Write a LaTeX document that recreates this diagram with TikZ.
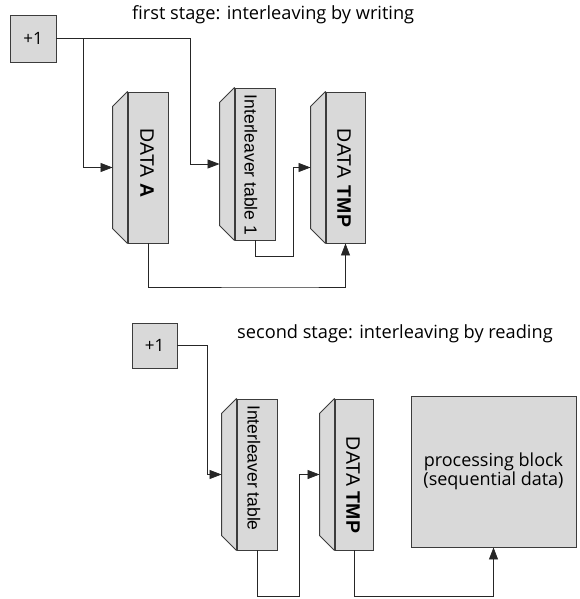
\documentclass[tikz,border=0pt]{standalone}
\usepackage{fontspec}
\setmainfont{Open Sans}
\newfontfamily\labelfont{Liberation Sans}
\usetikzlibrary{arrows.meta,calc}
\definecolor{blockfill}{HTML}{D9D9D9}
\definecolor{edge}{HTML}{3C3C3C}
\tikzset{
  box/.style={draw=edge,fill=blockfill,line width=0.9pt,inner sep=0pt},
  mem/.style={box,minimum width=40pt,minimum height=151pt},
  memlabel/.style={rotate=-90,inner sep=0pt,font=\labelfont\fontsize{19.5}{21}\selectfont},
  tablelabel/.style={memlabel,font=\labelfont\fontsize{17.5}{19}\selectfont},
  conn/.style={draw=black!85,line width=0.8pt},
  arrow/.style={conn,-{Triangle[length=12pt,width=9pt]}},
  caption/.style={font=\fontsize{18.2}{20}\selectfont,inner sep=0pt}
}
% slanted back face of a memory block, left of its front rectangle
\newcommand{\memback}[2]{%
  \fill[blockfill,draw=edge,line width=0.9pt,line join=bevel]
    (#1.north west) -- ++(-15,15) -- ($(#1.south west)+(-15,-15)$) -- (#1.south west) -- cycle;
  \coordinate (#2) at ($(#1.west)+(-15,0)$);}
\begin{document}
\begin{tikzpicture}[x=1pt,y=-1pt]
\useasboundingbox (0,0) rectangle (579,599);

% ---------- first stage ----------
\node[caption,anchor=west] (cap1) at (132,15) {first stage: interleaving by writing};
\node[box,minimum width=46pt,minimum height=47pt,font=\fontsize{17}{19}\selectfont] (p1) at (33,38.5) {+1};

\node[mem] (A) at (148,167.5) {};
\memback{A}{Ain}
\node[memlabel] (Alab) at (147,163) {DATA \textbf{A}};

\node[mem,minimum height=152pt] (IT1) at (255,164) {};
\memback{IT1}{IT1in}
\node[tablelabel] (IT1lab) at (251,165) {Interleaver table 1};

\node[mem,minimum width=39pt] (T1) at (345.5,167.5) {};
\memback{T1}{T1in}
\node[memlabel] (T1lab) at (344,178) {DATA\hspace{0.4em}\textbf{TMP}};

\draw[arrow] (p1.east) -- (190,38.5) |- (IT1in);
\draw[arrow] (83,38.5) |- (Ain);
\draw[arrow] (A.south) |- (293,287) -- (293,287 -| T1.south) -- (T1.south);
\draw[arrow] (IT1.south) |- (293,256) |- (T1in);

% ---------- second stage ----------
\node[caption,anchor=west] (cap2) at (237,334) {second stage: interleaving by reading};
\node[box,minimum width=45pt,minimum height=45pt,font=\fontsize{17}{19}\selectfont] (p2) at (154.5,345.5) {+1};

\node[mem] (IT2) at (257,474.5) {};
\memback{IT2}{IT2in}
\node[tablelabel] (IT2lab) at (254,468) {Interleaver table};

\node[mem,minimum width=38pt] (T2) at (354,474.5) {};
\memback{T2}{T2in}
\node[memlabel] (T2lab) at (353,485) {DATA\hspace{0.3em}\textbf{TMP}};

\node[box,minimum width=165pt,minimum height=151pt,align=center,
      font=\fontsize{18}{19}\selectfont] (proc) at (493.5,471.5)
      {processing block\\(sequential data)};

\draw[arrow] (p2.east) -- (207,345.5) |- (IT2in);
\draw[arrow] (IT2.south) |- (299,596) |- (T2in);
\draw[arrow] (T2.south) |- (proc.south |- 0,596) -- (proc.south);
\end{tikzpicture}
\end{document}
